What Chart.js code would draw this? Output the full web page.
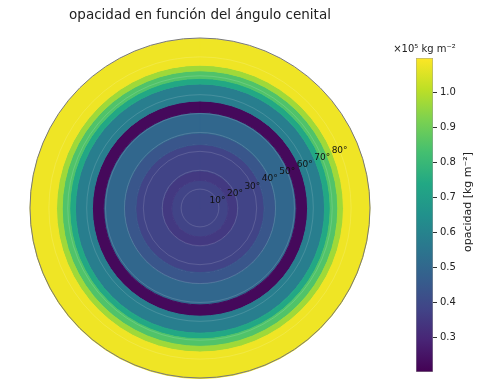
<!DOCTYPE html>
<html>
<head>
    <title>Opacidad en función del ángulo cenital</title>
    <script src="https://cdn.jsdelivr.net/npm/chart.js"></script>
    <style>
        body { margin: 0; background: #fff; }
        #wrap { position: relative; width: 481px; height: 385px; }
        #skyBox { position: absolute; left: 0; top: 0; width: 400px; height: 385px; }
        #barBox { position: absolute; left: 380px; top: 0; width: 101px; height: 385px; }
    </style>
</head>
<body>
<div id="wrap">
    <div id="skyBox"><canvas id="skyChart"></canvas></div>
    <div id="barBox"><canvas id="barChart"></canvas></div>
</div>
<script>
    // zenith angle ring edges (degrees) and mean opacity inside each ring
    var zenithEdges = [0, 15, 20, 34, 40, 51, 57, 66, 69, 73, 76, 90];
    var opacity = [0.38, 0.35, 0.38, 0.44, 0.50, 0.22, 0.58, 0.74, 0.85, 0.97, 1.08];

    // radial tick labels
    var rTickValues = [10, 20, 30, 40, 50, 60, 70, 80];
    var rTickLabels = ['10°', '20°', '30°', '40°', '50°', '60°', '70°', '80°'];

    // colour bar range and ticks
    var cbMin = 0.2, cbMax = 1.1;
    var cbTicks = [0.3, 0.4, 0.5, 0.6, 0.7, 0.8, 0.9, 1.0];

    var viridis = ['#440154', '#482475', '#414487', '#355f8d', '#2a788e', '#21918c',
                   '#22a884', '#44bf70', '#7ad151', '#bddf26', '#fde725'];

    Chart.defaults.font.family = '"DejaVu Sans", sans-serif';

    function hexToRgb(h) {
        return [parseInt(h.substr(1, 2), 16), parseInt(h.substr(3, 2), 16), parseInt(h.substr(5, 2), 16)];
    }

    function viridisAt(t) {
        t = Math.max(0, Math.min(1, t));
        var p = t * (viridis.length - 1);
        var i = Math.min(Math.floor(p), viridis.length - 2);
        var f = p - i;
        var a = hexToRgb(viridis[i]), b = hexToRgb(viridis[i + 1]);
        var c = a.map(function (v, k) { return Math.round(v + (b[k] - v) * f); });
        return 'rgb(' + c.join(',') + ')';
    }

    // one doughnut dataset per ring, outermost first
    var rings = [];
    for (var i = opacity.length - 1; i >= 0; i--) {
        var col = viridisAt((opacity[i] - cbMin) / (cbMax - cbMin));
        rings.push({
            data: [1],
            weight: zenithEdges[i + 1] - zenithEdges[i],
            backgroundColor: col,
            borderColor: col,
            borderWidth: 1,
            hoverOffset: 0
        });
    }

    // radial labels along the 22.5 degree line, kept horizontal
    var rLabelPlugin = {
        id: 'rLabels',
        afterDraw: function (chart) {
            var s = chart.scales.r, ctx = chart.ctx, a = 22.5 * Math.PI / 180;
            ctx.save();
            ctx.font = '9px "DejaVu Sans"';
            ctx.fillStyle = '#111';
            ctx.textAlign = 'center';
            ctx.textBaseline = 'middle';
            rTickValues.forEach(function (v, k) {
                var d = s.getDistanceFromCenterForValue(v);
                ctx.fillText(rTickLabels[k], s.xCenter + d * Math.cos(a), s.yCenter - d * Math.sin(a));
            });
            ctx.restore();
        }
    };

    new Chart(document.getElementById('skyChart'), {
        type: 'doughnut',
        data: { labels: [''], datasets: rings },
        options: {
            responsive: true,
            maintainAspectRatio: false,
            animation: false,
            cutout: 0,
            layout: { padding: { left: 29, right: 29, top: 0, bottom: 6 } },
            plugins: {
                legend: { display: false },
                tooltip: { enabled: false },
                title: {
                    display: true,
                    text: 'opacidad en función del ángulo cenital',
                    color: '#222',
                    font: { size: 13.5, weight: 'normal' },
                    padding: { top: 7, bottom: 15 }
                }
            },
            scales: {
                r: {
                    type: 'radialLinear',
                    min: 0,
                    max: 90,
                    ticks: { stepSize: 10, display: false },
                    angleLines: { display: false },
                    pointLabels: { display: false },
                    grid: {
                        z: 1,
                        circular: true,
                        color: function (c) { return c.tick.value === 90 ? '#777' : 'rgba(255,255,255,0.18)'; },
                        lineWidth: function (c) { return c.tick.value === 90 ? 1 : 0.8; }
                    }
                }
            }
        },
        plugins: [rLabelPlugin]
    });

    // offset text above the bar and rotated axis label
    var cbTextPlugin = {
        id: 'cbText',
        afterDraw: function (chart) {
            var ctx = chart.ctx, area = chart.chartArea;
            ctx.save();
            ctx.fillStyle = '#222';
            ctx.font = '10px "DejaVu Sans"';
            ctx.textAlign = 'center';
            ctx.textBaseline = 'alphabetic';
            ctx.fillText('×10⁵ kg m⁻²', (area.left + area.right) / 2, area.top - 6);
            ctx.translate(88, 202);
            ctx.rotate(-Math.PI / 2);
            ctx.textBaseline = 'middle';
            ctx.font = '11px "DejaVu Sans"';
            ctx.fillText('opacidad [kg m⁻²]', 0, 0);
            ctx.restore();
        }
    };

    new Chart(document.getElementById('barChart'), {
        type: 'bar',
        data: {
            labels: [''],
            datasets: [{
                data: [[cbMin, cbMax]],
                backgroundColor: function (c) {
                    var chart = c.chart, y = chart.scales.y;
                    if (!chart.chartArea || !y) return viridis[5];
                    var g = chart.ctx.createLinearGradient(0, y.getPixelForValue(cbMin), 0, y.getPixelForValue(cbMax));
                    viridis.forEach(function (v, k) { g.addColorStop(k / (viridis.length - 1), v); });
                    return g;
                },
                borderColor: 'rgba(60,60,60,0.5)',
                borderWidth: 0.8,
                borderSkipped: false,
                barPercentage: 1,
                categoryPercentage: 1
            }]
        },
        options: {
            responsive: true,
            maintainAspectRatio: false,
            animation: false,
            layout: { padding: { left: 36, right: 0, top: 58, bottom: 13 } },
            plugins: { legend: { display: false }, tooltip: { enabled: false } },
            scales: {
                x: { display: false },
                y: {
                    position: 'right',
                    min: cbMin,
                    max: cbMax,
                    afterBuildTicks: function (s) { s.ticks = cbTicks.map(function (v) { return { value: v }; }); },
                    afterFit: function (s) { s.width = 48; },
                    border: { display: false },
                    grid: { drawOnChartArea: false, tickLength: 4, color: '#333' },
                    ticks: {
                        padding: 3,
                        color: '#222',
                        font: { size: 10 },
                        callback: function (v) { return v.toFixed(1); }
                    }
                }
            }
        },
        plugins: [cbTextPlugin]
    });
</script>
</body>
</html>
